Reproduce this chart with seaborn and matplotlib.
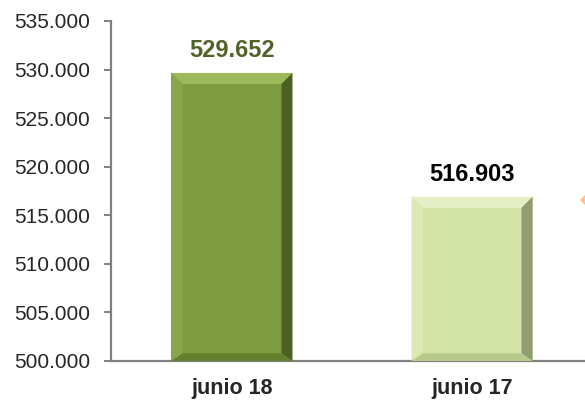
import matplotlib
matplotlib.use("Agg")
import matplotlib.pyplot as plt
import matplotlib.ticker as mtick
from matplotlib.patches import Polygon
import pandas as pd
import seaborn as sns

categories = ["junio 18", "junio 17"]
values = [529652, 516903]
bar_colors = ["#7E9C40", "#D3E4A6"]
label_colors = ["#4F6228", "#000000"]
y_ticks = [500000, 505000, 510000, 515000, 520000, 525000, 530000, 535000]

# bevel shades per bar: top, left, right, bottom
bevels = [
    ["#9CBA5C", "#88A64A", "#4C6024", "#62802E"],
    ["#E6F0C8", "#DCE9B5", "#919D70", "#B8C98C"],
]

sns.set_style("white")
plt.rcParams["font.family"] = ["Liberation Sans Narrow", "Liberation Sans", "DejaVu Sans"]

df = pd.DataFrame({"mes": categories, "valor": values})

fig = plt.figure(figsize=(5.85, 4.07), dpi=100)
ax = fig.add_axes([111 / 585, 46 / 407, 482 / 585, 340 / 407])

sns.barplot(data=df, x="mes", y="valor", hue="mes", palette=bar_colors,
            width=0.504, legend=False, ax=ax, saturation=1, edgecolor="none")

ax.set_ylim(500000, 535000)
ax.set_xlim(-0.504, 1.504)
ax.set_yticks(y_ticks)
ax.yaxis.set_major_formatter(mtick.FuncFormatter(lambda v, p: f"{v:,.0f}".replace(",", ".")))
ax.set_xlabel("")
ax.set_ylabel("")

for s in ["top", "right"]:
    ax.spines[s].set_visible(False)
for s in ["left", "bottom"]:
    ax.spines[s].set_color("#808080")
    ax.spines[s].set_linewidth(1.6)

ax.tick_params(axis="y", which="major", left=True, length=5, width=1.4,
               color="#808080", pad=10, labelsize=15)
ax.tick_params(axis="x", bottom=False, pad=9, labelsize=15.5)
for t in ax.get_xticklabels():
    t.set_fontweight("bold")

# bevel effect drawn from each bar's own geometry
fig.canvas.draw()
bw = 11  # pixels
for i, patch in enumerate(ax.patches):
    x0, y0 = patch.get_x(), max(patch.get_y(), ax.get_ylim()[0])
    x1, y1 = x0 + patch.get_width(), patch.get_y() + patch.get_height()
    (px0, py0) = ax.transData.transform((x0, y0))
    (px1, py1) = ax.transData.transform((x1, y1))
    ix0, ix1, iy0, iy1 = px0 + bw, px1 - bw, py0 + bw * 0.7, py1 - bw
    shapes = [
        [(px0, py1), (px1, py1), (ix1, iy1), (ix0, iy1)],
        [(px0, py0), (px0, py1), (ix0, iy1), (ix0, iy0)],
        [(px1, py0), (px1, py1), (ix1, iy1), (ix1, iy0)],
        [(px0, py0), (px1, py0), (ix1, iy0), (ix0, iy0)],
    ]
    for pts, col in zip(shapes, bevels[i]):
        ax.add_patch(Polygon(pts, closed=True, transform=None,
                             facecolor=col, edgecolor="none", zorder=3))

    ax.annotate(f"{values[i]:,.0f}".replace(",", "."), (patch.get_x() + patch.get_width() / 2, y1),
                xytext=(0, 8), textcoords="offset points", ha="center", va="bottom",
                fontsize=17, fontweight="bold", color=label_colors[i])

# small orange marker cut off at the right edge
fig.patches.append(Polygon([(580 / 585, 207 / 407), (588 / 585, 215 / 407),
                            (596 / 585, 207 / 407), (588 / 585, 199 / 407)],
                           closed=True, transform=fig.transFigure,
                           facecolor="#FAC596", edgecolor="none"))

fig.savefig("out.png", dpi=100)
